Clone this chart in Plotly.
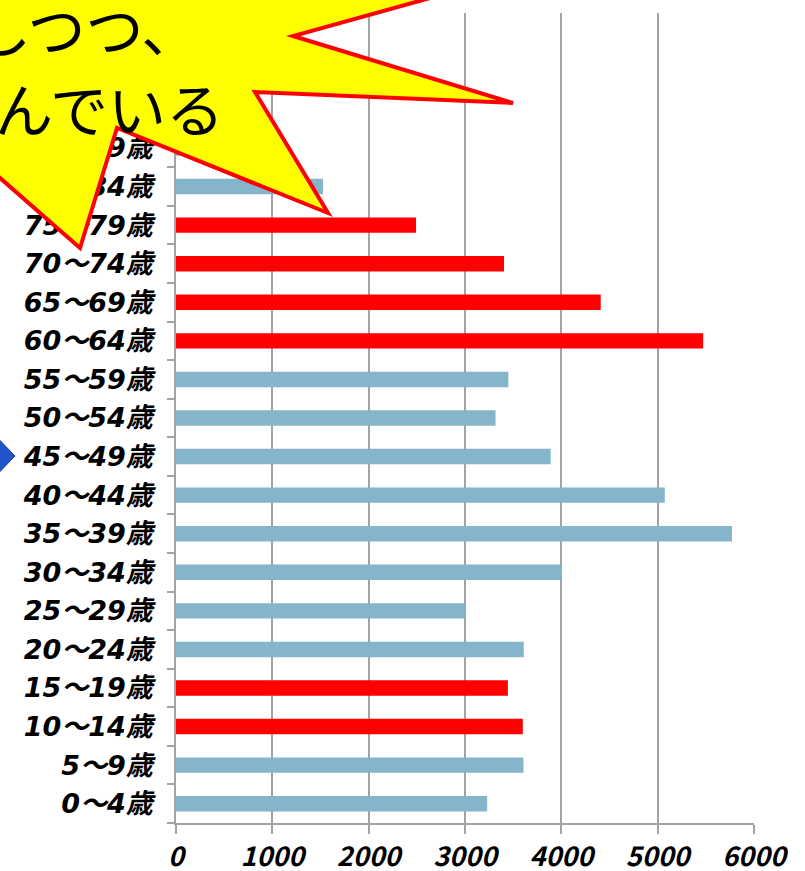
import plotly.graph_objects as go

# ---- data ----
age_groups = ["0～4歳", "5～9歳", "10～14歳", "15～19歳", "20～24歳", "25～29歳",
              "30～34歳", "35～39歳", "40～44歳", "45～49歳", "50～54歳", "55～59歳",
              "60～64歳", "65～69歳", "70～74歳", "75～79歳", "80～84歳", "85～89歳",
              "90～94歳", "95～99歳", "100歳以上"]
population = [3230, 3607, 3600, 3445, 3610, 2998,
              4003, 5771, 5074, 3889, 3317, 3450,
              5472, 4409, 3405, 2492, 1527, 780,
              280, 60, 10]
highlighted = ["10～14歳", "15～19歳", "60～64歳", "65～69歳", "70～74歳", "75～79歳"]
x_ticks = [0, 1000, 2000, 3000, 4000, 5000, 6000]
callout_lines = ["しつつ、", "んでいる"]

BLUE = "#85b5cb"
RED = "#ff0000"
colors = [RED if a in highlighted else BLUE for a in age_groups]

W, H = 805, 871
SX0, SX1, SY0, SY1 = 176, 754, 13, 823
L, R, T, B = SX0, W - SX1, SY0, H - SY1


def px(x):
    return (x - SX0) / (SX1 - SX0)


def py(y):
    return (SY1 - y) / (SY1 - SY0)


def path(points):
    return "M " + " L ".join(f"{px(x):.5f},{py(y):.5f}" for x, y in points) + " Z"


fig = go.Figure(go.Bar(
    x=population, y=age_groups, orientation="h",
    marker=dict(color=colors, line=dict(width=0)),
    hoverinfo="x+y",
))

grey = "#a3a3a3"
fig.update_layout(
    width=W, height=H,
    margin=dict(l=L, r=R, t=T, b=B, autoexpand=False),
    paper_bgcolor="white", plot_bgcolor="white",
    bargap=0.6, showlegend=False,
    xaxis=dict(range=[0, 6000], tickvals=x_ticks, showgrid=True, gridcolor=grey,
               gridwidth=1.5, zeroline=False, showline=True, linecolor=grey,
               linewidth=1.5, ticks="outside", ticklen=9, tickcolor=grey,
               tickwidth=1.5, ticklabelstandoff=0, automargin=False,
               tickfont=dict(family="Noto Sans CJK JP", size=27, color="black",
                             weight="bold", style="italic")),
    yaxis=dict(type="category", categoryorder="array", categoryarray=age_groups,
               showgrid=False, zeroline=False, showline=True, linecolor=grey,
               linewidth=1.5, ticks="outside", ticklen=7, tickcolor=grey,
               tickwidth=1.5, tickson="boundaries", ticklabelstandoff=16,
               automargin=False,
               tickfont=dict(family="DejaVu Sans, Noto Sans CJK JP", size=27,
                             color="black", weight="bold", style="italic")),
)

star = [(250, -100), (560, -38), (293, 36), (513, 103), (255, 92), (328, 213),
        (117, 128), (80, 248), (-40, 143), (-100, 143), (-100, -100)]
fig.add_shape(type="path", xref="paper", yref="paper", path=path(star),
              fillcolor="#ffff00", line=dict(color=RED, width=4), layer="above")

arrow = [(-15, 425), (15, 456), (-15, 487)]
fig.add_shape(type="path", xref="paper", yref="paper", path=path(arrow),
              fillcolor="#2255cc", line=dict(color="#163c96", width=1), layer="above")

for text, right, cy in zip(callout_lines, [201, 226], [27, 107]):
    fig.add_annotation(text=text, xref="paper", yref="paper", x=px(right), y=py(cy),
                       xanchor="right", yanchor="middle", showarrow=False,
                       font=dict(family="Noto Sans CJK JP", size=58, color="black"))

fig.write_html("out.html",
               config={"displayModeBar": False},
               post_script="document.body.style.margin='0px';"
                           "document.body.style.overflow='hidden';")
